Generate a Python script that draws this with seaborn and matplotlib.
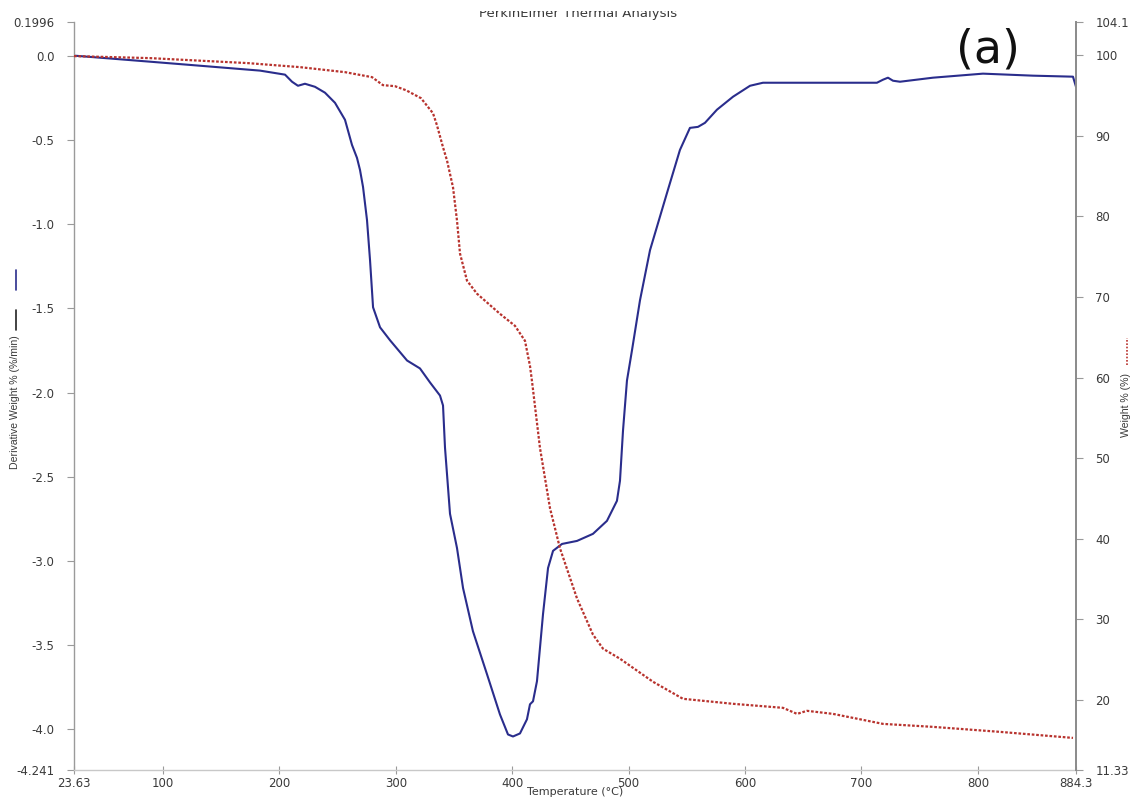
import numpy as np
import pandas as pd
import matplotlib
matplotlib.use("Agg")
import matplotlib.pyplot as plt
import seaborn as sns
from matplotlib.lines import Line2D
from matplotlib.patches import Rectangle

# ---------------- data ----------------
deriv_temp = [23.63, 88.9, 131.9, 183.4, 204.9, 210.9, 216.0, 222.0, 230.6, 239.2,
              247.8, 256.4, 262.4, 266.7, 269.3, 271.9, 275.3, 277.9, 280.5, 286.5,
              295.1, 309.7, 320.8, 329.4, 338.0, 340.6, 342.3, 346.6, 352.6, 357.8,
              366.3, 378.4, 389.5, 396.4, 400.7, 406.7, 412.7, 415.3, 417.9, 421.3,
              426.5, 430.8, 435.1, 442.8, 455.7, 469.4, 481.4, 490.0, 492.6, 495.2,
              498.6, 502.9, 509.8, 518.4, 533.0, 544.1, 552.7, 559.6, 565.6, 575.9,
              589.7, 604.3, 615.4, 647.2, 713.3, 718.5, 722.8, 727.1, 733.1, 761.4,
              804.4, 847.3, 881.7, 884.3]
deriv_val = [0.0, -0.036, -0.060, -0.089, -0.113, -0.155, -0.179, -0.167, -0.185, -0.220,
             -0.280, -0.381, -0.530, -0.607, -0.679, -0.780, -0.976, -1.214, -1.494, -1.613,
             -1.690, -1.810, -1.857, -1.940, -2.018, -2.077, -2.327, -2.720, -2.923, -3.161,
             -3.417, -3.673, -3.911, -4.030, -4.042, -4.024, -3.940, -3.851, -3.833, -3.714,
             -3.315, -3.042, -2.940, -2.899, -2.881, -2.839, -2.762, -2.643, -2.524, -2.226,
             -1.929, -1.750, -1.452, -1.155, -0.815, -0.560, -0.429, -0.423, -0.399, -0.321,
             -0.244, -0.179, -0.161, -0.161, -0.161, -0.143, -0.131, -0.149, -0.155, -0.131,
             -0.107, -0.119, -0.125, -0.185]

weight_temp = [23.63, 88.9, 173.1, 217.8, 256.4, 279.6, 289.0, 299.3, 308.8, 321.7,
               332.0, 335.4, 340.6, 344.0, 349.2, 352.6, 355.2, 361.2, 369.8, 389.5,
               402.4, 411.0, 415.3, 417.0, 423.9, 432.5, 441.1, 455.7, 469.4, 478.0,
               492.6, 521.0, 546.7, 589.7, 632.6, 644.7, 653.2, 675.6, 718.5, 761.4,
               819.0, 881.7]
weight_val = [99.87, 99.62, 99.0, 98.50, 97.88, 97.26, 96.27, 96.14, 95.64, 94.65,
              92.78, 91.29, 88.56, 86.94, 83.58, 79.48, 75.37, 72.02, 70.40, 67.91,
              66.42, 64.56, 61.45, 59.58, 51.25, 43.79, 38.81, 32.60, 28.12, 26.38,
              25.13, 22.27, 20.16, 19.54, 19.04, 18.29, 18.67, 18.29, 17.05, 16.68,
              16.06, 15.31]

x_ticks = [23.63, 100, 200, 300, 400, 500, 600, 700, 800, 884.3]
x_tick_labels = ["23.63", "100", "200", "300", "400", "500", "600", "700", "800", "884.3"]
left_ticks = [0.1996, 0.0, -0.5, -1.0, -1.5, -2.0, -2.5, -3.0, -3.5, -4.0, -4.241]
left_tick_labels = ["0.1996", "0.0", "-0.5", "-1.0", "-1.5", "-2.0", "-2.5", "-3.0",
                    "-3.5", "-4.0", "-4.241"]
right_ticks = [104.1, 100, 90, 80, 70, 60, 50, 40, 30, 20, 11.33]
right_tick_labels = ["104.1", "100", "90", "80", "70", "60", "50", "40", "30", "20", "11.33"]

title_text = "PerkinElmer Thermal Analysis"
x_label = "Temperature (°C)"
left_label = "Derivative Weight % (%/min)"
right_label = "Weight % (%)"
panel_label = "(a)"

# ---------------- styling ----------------
sns.set_theme(style="white")
plt.rcParams["font.family"] = ["DejaVu Sans"]

BLUE = "#2a2d8c"
RED = "#b8332e"
SPINE = "#9a9a9a"
TXT = "#3a3a3a"
NARROW = ["Liberation Sans", "DejaVu Sans"]

fig = plt.figure(figsize=(11.34, 8.0), dpi=100)
ax = fig.add_axes([74 / 1134, 1 - 770 / 800, (1076 - 74) / 1134, (770 - 22) / 800])
ax2 = ax.twinx()

df_d = pd.DataFrame({"Temperature": deriv_temp, "Deriv": deriv_val})
df_w = pd.DataFrame({"Temperature": weight_temp, "Weight": weight_val})

sns.lineplot(data=df_d, x="Temperature", y="Deriv", ax=ax, color=BLUE,
             linewidth=1.5, sort=False, estimator=None)
sns.lineplot(data=df_w, x="Temperature", y="Weight", ax=ax2, color=RED,
             linewidth=1.6, sort=False, estimator=None, linestyle=(0, (1.2, 0.8)))

ax.set_xlim(23.63, 884.3)
ax.set_ylim(-4.241, 0.1996)
ax2.set_ylim(11.33, 104.1)

ax.set_xticks(x_ticks)
ax.set_xticklabels(x_tick_labels)
ax.set_yticks(left_ticks)
ax.set_yticklabels(left_tick_labels)
ax2.set_yticks(right_ticks)
ax2.set_yticklabels(right_tick_labels)

for a in (ax, ax2):
    for s in a.spines.values():
        s.set_color(SPINE)
        s.set_linewidth(1.0)
    a.spines["top"].set_visible(False)
ax.spines["right"].set_visible(False)
ax2.spines["left"].set_visible(False)
ax2.spines["bottom"].set_visible(False)
ax.spines["bottom"].set_color("#c8c8c8")
ax2.spines["right"].set_color("#8a8a8a")
ax2.spines["right"].set_linewidth(1.4)

ax.tick_params(axis="x", direction="inout", length=6, width=0.8, color=SPINE,
               labelsize=8.5, labelcolor=TXT, pad=2, bottom=True)
ax.tick_params(axis="y", direction="out", length=5, width=0.8, color=SPINE,
               labelsize=8.5, labelcolor=TXT, pad=9, left=True)
ax2.tick_params(axis="y", direction="out", length=5, width=0.8, color=SPINE,
                labelsize=8.5, labelcolor=TXT, pad=9, right=True)

ax.set_xlabel(x_label, fontsize=8, color=TXT, labelpad=-2)
ax.set_ylabel("")
ax2.set_ylabel("")

# rotated axis labels with line-style samples
fig.text(15 / 1134, 1 - 402 / 800, left_label, rotation=90, ha="center", va="center",
         fontsize=7.6, color=TXT, family=NARROW)
fig.add_artist(Line2D([16 / 1134, 16 / 1134], [1 - 330 / 800, 1 - 310 / 800],
                      transform=fig.transFigure, color="#222222", linewidth=1.2))
fig.add_artist(Line2D([16 / 1134, 16 / 1134], [1 - 290 / 800, 1 - 270 / 800],
                      transform=fig.transFigure, color=BLUE, linewidth=1.2))

fig.text(1126 / 1134, 1 - 405 / 800, right_label, rotation=90, ha="center", va="center",
         fontsize=7.6, color=TXT, family=NARROW)
fig.add_artist(Line2D([1127 / 1134, 1127 / 1134], [1 - 365 / 800, 1 - 338 / 800],
                      transform=fig.transFigure, color=RED, linewidth=1.2,
                      linestyle=(0, (1, 1))))

# panel label
fig.text(988 / 1134, 1 - 50 / 800, panel_label, ha="center", va="center",
         fontsize=33, color="#111111")

# title, partially cut at the top as in the reference
fig.text(578 / 1134, 1 - 17 / 800, title_text, ha="center", va="baseline",
         fontsize=9.5, color=TXT)
fig.add_artist(Rectangle((0.3, 1 - 11 / 800), 0.5, 11 / 800, transform=fig.transFigure,
                         facecolor="white", edgecolor="none", zorder=10))

fig.savefig("out.png", dpi=100, facecolor="white")
